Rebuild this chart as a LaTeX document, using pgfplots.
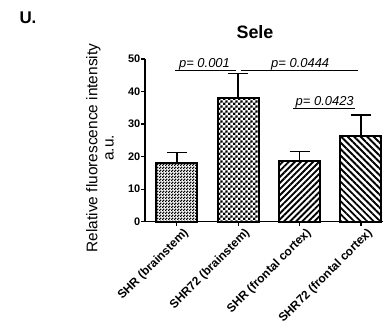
\documentclass[border=0pt]{standalone}
\usepackage{fontspec}
\setmainfont{Liberation Sans}
\usepackage{pgfplots}
\pgfplotsset{compat=1.18}
\usetikzlibrary{patterns,patterns.meta}
\pgfdeclarepatternformonly{checkbig}{\pgfpointorigin}{\pgfpoint{5.2bp}{5.2bp}}{\pgfpoint{5.2bp}{5.2bp}}{%
\pgfpathrectangle{\pgfpointorigin}{\pgfpoint{2.6bp}{2.6bp}}%
\pgfpathrectangle{\pgfpoint{2.6bp}{2.6bp}}{\pgfpoint{2.6bp}{2.6bp}}%
\pgfusepath{fill}}
\pgfdeclarepatternformonly{checksmall}{\pgfpointorigin}{\pgfpoint{2.6bp}{2.6bp}}{\pgfpoint{2.6bp}{2.6bp}}{%
\pgfpathrectangle{\pgfpointorigin}{\pgfpoint{1.45bp}{1.45bp}}%
\pgfpathrectangle{\pgfpoint{1.3bp}{1.3bp}}{\pgfpoint{1.3bp}{1.3bp}}%
\pgfusepath{fill}}
\begin{document}
\begin{tikzpicture}
\path[use as bounding box] (0,0) rectangle (387bp,329bp);
\node[font=\bfseries\fontsize{17}{20}\selectfont, anchor=west] at (16bp,311bp) {U.};
\node[font=\bfseries\fontsize{18}{21}\selectfont] at (255bp,297bp) {Sele};
\node[rotate=90, align=center, font=\fontsize{15.5}{16.5}\selectfont] at (100bp,181bp) {Relative fluorescence intensity\\a.u.};
\begin{axis}[
  at={(145bp,107.3bp)}, anchor=south west,
  scale only axis, width=238bp, height=162.7bp,
  xmin=-0.52, xmax=3.36, ymin=0, ymax=50,
  axis lines=left, axis line style={line width=1.4bp, -},
  clip=false,
  ybar, bar width=0.67, bar shift=0pt,
  ytick={0,10,20,30,40,50},
  xtick={0,1,2,3},
  xticklabels={SHR (brainstem),SHR72 (brainstem),SHR (frontal cortex),SHR72 (frontal cortex)},
  tick align=outside, major tick length=4bp,
  tick style={line width=1.2bp, black},
  /pgf/number format/assume math mode=true,
  tick label style={font=\bfseries\fontsize{11}{13}\selectfont},
  yticklabel style={inner sep=0.5bp},
  xticklabel style={rotate=45, anchor=north east, inner sep=1bp, xshift=4bp, yshift=-4bp, font=\bfseries\fontsize{12}{14}\selectfont},
  error bars/y dir=plus, error bars/y explicit,
  error bars/error bar style={line width=1.5bp, black},
  error bars/error mark options={rotate=90, mark size=10bp, line width=1.5bp, black},
]
\addplot[draw=black, line width=2bp, pattern=checksmall, pattern color=black] coordinates {(0,18.1) +- (0,3.2)};
\addplot[draw=black, line width=2bp, pattern=checkbig, pattern color=black] coordinates {(1,38.1) +- (0,7.5)};
\addplot[draw=black, line width=2bp, pattern={Lines[angle=45,distance=4.3bp,line width=1.9bp]}, pattern color=black] coordinates {(2,18.6) +- (0,2.9)};
\addplot[draw=black, line width=2bp, pattern={Lines[angle=-45,distance=4.6bp,line width=1.9bp]}, pattern color=black] coordinates {(3,26.4) +- (0,6.4)};
\draw[line width=0.8bp] (axis cs:-0.03,46.6) -- (axis cs:0.96,46.6);
\draw[line width=0.8bp] (axis cs:1.04,46.6) -- (axis cs:2.95,46.6);
\draw[line width=0.8bp] (axis cs:1.89,34.9) -- (axis cs:2.90,34.9);
\node[anchor=base, font=\itshape\fontsize{13}{15}\selectfont, yshift=2.2bp] at (axis cs:0.45,46.6) {p= 0.001};
\node[anchor=base, font=\itshape\fontsize{13}{15}\selectfont, yshift=2.2bp] at (axis cs:2.01,46.6) {p= 0.0444};
\node[anchor=base, font=\itshape\fontsize{13}{15}\selectfont, yshift=2.2bp] at (axis cs:2.41,34.9) {p= 0.0423};
\end{axis}
\end{tikzpicture}
\end{document}
